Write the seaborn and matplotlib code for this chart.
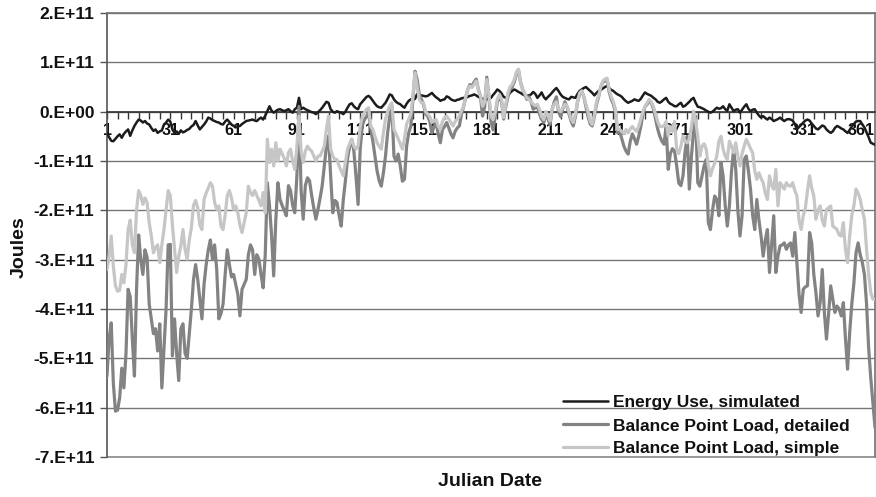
import matplotlib
matplotlib.use("Agg")
import matplotlib.pyplot as plt
import matplotlib.transforms as mtransforms
import numpy as np
import pandas as pd
import seaborn as sns

# ---------------- data (values in units of 1e11 Joules) ----------------
days = list(range(1, 366))

energy_use = [
    -0.43, -0.52, -0.59, -0.60, -0.55, -0.50, -0.46, -0.53, -0.45, -0.40,
    -0.36, -0.49, -0.38, -0.29, -0.22, -0.16, -0.18, -0.22, -0.19, -0.24,
    -0.26, -0.33, -0.39, -0.36, -0.43, -0.40, -0.38, -0.26, -0.22, -0.16,
    -0.20, -0.36, -0.43, -0.40, -0.45, -0.38, -0.42, -0.40, -0.37, -0.35,
    -0.30, -0.27, -0.19, -0.28, -0.36, -0.31, -0.26, -0.20, -0.12, -0.14,
    -0.17, -0.19, -0.21, -0.22, -0.25, -0.26, -0.20, -0.16, -0.21, -0.26,
    -0.29, -0.32, -0.30, -0.29, -0.25, -0.22, -0.19, -0.18, -0.17, -0.16,
    -0.18, -0.19, -0.15, -0.12, -0.16, -0.08, 0.01, 0.11, 0.02, -0.02,
    0.01, 0.04, 0.05, 0.03, 0.01, 0.03, 0.05, 0.01, -0.02, 0.05,
    0.08, 0.28, 0.05, 0.08, 0.05, 0.03, 0.01, -0.01, -0.02, -0.05,
    -0.01, 0.03, 0.08, 0.14, 0.20, 0.18, 0.05, 0.00, -0.02, 0.01,
    -0.01, -0.02, -0.05, 0.00, 0.08, 0.15, 0.17, 0.11, 0.07, 0.05,
    0.15, 0.20, 0.25, 0.30, 0.32, 0.28, 0.22, 0.16, 0.11, 0.09,
    0.08, 0.13, 0.18, 0.26, 0.35, 0.33, 0.25, 0.20, 0.17, 0.15,
    0.11, 0.08, 0.16, 0.22, 0.25, 0.24, 0.26, 0.36, 0.34, 0.33,
    0.32, 0.31, 0.32, 0.35, 0.38, 0.33, 0.29, 0.26, 0.22, 0.24,
    0.25, 0.31, 0.29, 0.25, 0.23, 0.22, 0.24, 0.25, 0.27, 0.28,
    0.28, 0.30, 0.32, 0.33, 0.35, 0.33, 0.30, 0.28, 0.26, 0.25,
    0.25, 0.26, 0.28, 0.34, 0.39, 0.45, 0.42, 0.37, 0.30, 0.28,
    0.32, 0.38, 0.42, 0.45, 0.43, 0.40, 0.38, 0.35, 0.33, 0.32,
    0.33, 0.35, 0.40, 0.36, 0.28, 0.33, 0.39, 0.30, 0.25, 0.30,
    0.34, 0.39, 0.44, 0.48, 0.42, 0.35, 0.30, 0.28, 0.26, 0.25,
    0.30, 0.29, 0.28, 0.36, 0.42, 0.45, 0.48, 0.50, 0.46, 0.42,
    0.38, 0.33, 0.38, 0.42, 0.44, 0.47, 0.50, 0.52, 0.48, 0.44,
    0.42, 0.38, 0.35, 0.33, 0.30, 0.25, 0.21, 0.18, 0.20, 0.22,
    0.25, 0.23, 0.22, 0.26, 0.33, 0.39, 0.36, 0.34, 0.32, 0.28,
    0.25, 0.20, 0.18, 0.21, 0.25, 0.28, 0.20, 0.16, 0.14, 0.11,
    0.11, 0.15, 0.18, 0.10, 0.12, 0.16, 0.20, 0.25, 0.28, 0.18,
    0.10, 0.09, 0.07, 0.05, 0.02, 0.00, -0.02, 0.00, 0.04, 0.08,
    0.06, 0.07, 0.11, 0.05, 0.02, 0.15, 0.08, 0.01, 0.04, 0.05,
    -0.02, 0.04, 0.10, 0.15, 0.06, 0.01, 0.04, 0.05, -0.02, -0.08,
    -0.12, -0.09, -0.13, -0.16, -0.12, -0.15, -0.19, -0.17, -0.15, -0.12,
    -0.16, -0.19, -0.16, -0.15, -0.16, -0.18, -0.25, -0.36, -0.31, -0.27,
    -0.22, -0.18, -0.16, -0.18, -0.24, -0.29, -0.34, -0.36, -0.32, -0.28,
    -0.30, -0.36, -0.40, -0.43, -0.40, -0.33, -0.29, -0.31, -0.34, -0.36,
    -0.40, -0.43, -0.37, -0.30, -0.25, -0.20, -0.19, -0.19, -0.26, -0.32,
    -0.42, -0.52, -0.63, -0.65, -0.67,
]

bp_detailed = [
    -5.36, -4.60, -4.28, -5.50, -6.07, -6.05, -5.80, -5.20, -5.60, -4.90,
    -3.60, -3.75, -4.60, -5.36, -3.60, -2.50, -3.00, -3.30, -2.80, -2.95,
    -3.90, -4.20, -4.50, -4.40, -4.85, -4.30, -5.60, -4.80, -4.00, -2.70,
    -2.69, -4.95, -4.20, -4.90, -5.45, -4.40, -4.30, -4.90, -5.00, -4.50,
    -4.00, -3.40, -3.10, -3.40, -3.80, -4.20, -3.50, -3.10, -2.80, -2.60,
    -3.00, -2.70, -3.20, -4.20, -4.10, -3.90, -3.30, -2.80, -3.10, -3.35,
    -3.30, -3.50, -3.70, -4.14, -3.60, -3.50, -3.40, -2.90, -2.70, -2.80,
    -3.30, -2.90, -2.99, -3.30, -3.57, -2.90, -1.44, -1.90, -2.50, -3.33,
    -2.20, -1.44, -1.78, -1.90, -2.00, -2.11, -1.50, -1.60, -1.90, -2.05,
    -1.30, 0.10, -1.60, -2.18, -1.50, -1.34, -1.40, -1.70, -1.95, -2.18,
    -1.98, -1.75, -1.50, -1.10, -0.70, -0.49, -1.30, -2.05, -1.80, -1.84,
    -2.10, -2.32, -1.78, -1.40, -0.95, -0.70, -0.56, -0.80, -1.30, -1.88,
    -0.76, -0.29, -0.16, -0.10, -0.02, -0.36, -0.60, -0.90, -1.20, -1.40,
    -1.51, -1.24, -0.90, -0.43, -0.10, 0.11, -0.90, -1.00, -0.86, -1.10,
    -1.41, -1.37, -0.70, -0.43, -0.29, 0.25, 0.82, 0.65, 0.35, 0.25,
    0.15, -0.05, -0.09, -0.20, -0.43, -0.30, -0.22, -0.45, -0.63, -0.36,
    -0.30, -0.22, -0.33, -0.45, -0.53, -0.40, -0.33, -0.29, -0.05, 0.10,
    0.28, 0.45, 0.55, 0.52, 0.60, 0.66, 0.45, 0.32, -0.09, 0.10,
    0.70, 0.30, -0.20, -0.37, -0.10, 0.20, 0.30, 0.20, -0.15, 0.10,
    0.30, 0.45, 0.50, 0.60, 0.75, 0.85, 0.60, 0.45, 0.35, 0.25,
    0.30, 0.20, 0.05, 0.08, 0.10, -0.05, -0.15, -0.22, -0.05, -0.15,
    -0.26, 0.05, 0.20, 0.30, 0.00, -0.10, 0.05, 0.20, 0.10, -0.05,
    -0.20, -0.29, -0.10, 0.20, 0.35, 0.42, 0.30, 0.10, -0.10, -0.25,
    -0.29, -0.10, 0.15, 0.30, 0.50, 0.60, 0.62, 0.66, 0.40, 0.25,
    0.15, 0.00, -0.43, -0.40, -0.55, -0.70, -0.80, -0.86, -0.60, -0.45,
    -0.55, -0.66, -0.50, -0.30, -0.05, 0.10, 0.15, 0.22, 0.18, 0.05,
    -0.15, -0.35, -0.50, -0.60, -0.66, -0.30, -1.17, -0.85, -0.75, -0.80,
    -1.10, -1.45, -1.50, -1.30, -0.80, -0.50, -1.57, -0.90, -0.40, -0.09,
    -1.44, -1.51, -1.30, -1.10, -0.97, -2.25, -2.39, -2.00, -1.71, -1.78,
    -2.11, -1.03, -1.30, -1.90, -2.32, -1.90, -1.20, -0.76, -1.17, -2.00,
    -2.52, -2.11, -0.97, -0.90, -1.20, -1.57, -2.10, -2.39, -1.78, -2.20,
    -2.52, -2.93, -2.60, -2.39, -3.26, -2.70, -2.11, -3.26, -2.93, -2.72,
    -2.70, -2.66, -2.79, -2.70, -2.66, -2.93, -2.45, -3.06, -3.70, -4.07,
    -3.60, -3.55, -3.53, -2.45, -2.66, -3.30, -3.67, -4.14, -3.87, -3.20,
    -4.07, -4.61, -4.10, -3.53, -3.80, -4.07, -3.94, -4.00, -4.14, -3.87,
    -4.60, -5.22, -4.48, -3.90, -3.47, -2.86, -2.66, -2.90, -3.06, -3.30,
    -3.90, -4.80, -5.40, -5.90, -6.40,
]

bp_simple = [
    -3.20, -2.93, -2.52, -3.13, -3.53, -3.64, -3.62, -3.30, -3.47, -3.10,
    -2.40, -2.20, -2.70, -2.86, -2.00, -1.60, -1.70, -1.88, -1.75, -1.84,
    -2.25, -2.52, -2.86, -2.75, -2.70, -3.06, -2.70, -2.39, -2.00, -1.60,
    -1.70, -2.30, -2.79, -3.26, -2.93, -2.72, -2.39, -2.79, -2.99, -2.60,
    -2.35, -1.90, -1.80, -1.95, -2.30, -2.39, -1.78, -1.65, -1.55, -1.44,
    -1.51, -1.84, -1.98, -1.91, -2.32, -2.39, -2.10, -1.70, -1.60, -1.75,
    -1.98, -1.91, -2.05, -2.30, -2.45, -2.25, -2.05, -1.51, -1.64, -1.70,
    -1.60, -1.70, -1.80, -1.91, -1.64, -2.05, -0.56, -1.03, -0.76, -1.10,
    -0.63, -1.00, -0.76, -0.85, -0.95, -1.10, -0.83, -0.76, -1.00, -1.17,
    -0.70, -0.09, -0.80, -1.03, -0.80, -0.70, -0.76, -0.80, -0.90, -1.00,
    -0.90, -0.90, -0.80, -0.70, -0.35, -0.09, -0.76, -0.90, -0.97, -0.97,
    -1.10, -1.20, -1.30, -1.03, -0.76, -0.65, -0.56, -0.70, -0.76, -0.70,
    -0.30, -0.10, -0.02, 0.05, 0.08, -0.29, -0.36, -0.50, -0.63, -0.70,
    -0.76, -0.43, -0.15, 0.00, 0.11, 0.18, -0.36, -0.45, -0.55, -0.65,
    -0.76, -0.55, -0.25, -0.15, -0.05, 0.32, 0.79, 0.50, 0.25, 0.18,
    0.18, 0.00, -0.05, -0.10, -0.22, -0.18, -0.16, -0.30, -0.36, -0.20,
    -0.12, -0.09, -0.15, -0.22, -0.29, -0.20, -0.15, -0.09, 0.02, 0.10,
    0.30, 0.45, 0.52, 0.49, 0.55, 0.62, 0.45, 0.32, 0.11, 0.20,
    0.65, 0.35, -0.10, -0.16, 0.00, 0.25, 0.35, 0.25, -0.12, 0.15,
    0.38, 0.50, 0.55, 0.65, 0.80, 0.86, 0.60, 0.45, 0.38, 0.28,
    0.25, 0.20, 0.15, 0.12, 0.15, 0.05, -0.10, -0.16, 0.00, -0.08,
    -0.19, 0.05, 0.15, 0.20, 0.05, 0.00, 0.08, 0.15, 0.12, 0.00,
    -0.15, -0.22, -0.05, 0.20, 0.38, 0.42, 0.30, 0.15, 0.00, -0.20,
    -0.26, -0.05, 0.20, 0.32, 0.50, 0.62, 0.66, 0.68, 0.45, 0.30,
    0.20, 0.05, -0.36, -0.36, -0.40, -0.45, -0.36, -0.43, -0.35, -0.30,
    -0.36, -0.40, -0.30, -0.15, 0.00, 0.10, 0.18, 0.25, 0.20, 0.10,
    -0.05, -0.20, -0.30, -0.30, -0.29, -0.20, -0.49, -0.30, -0.40, -0.20,
    -0.76, -0.85, -0.70, -0.49, -0.60, -0.63, -0.56, -0.30, 0.01, -0.20,
    -0.50, -0.90, -0.70, -0.65, -0.76, -1.10, -1.30, -1.15, -1.05, -0.90,
    -0.60, -0.50, -0.76, -0.90, -0.97, -0.60, -0.70, -0.83, -0.63, -0.90,
    -1.10, -0.85, -0.70, -0.56, -0.65, -0.75, -0.83, -1.20, -1.37, -1.24,
    -1.35, -1.44, -1.65, -1.78, -1.30, -1.50, -1.57, -1.17, -1.91, -1.44,
    -1.50, -1.57, -1.44, -1.50, -1.51, -1.44, -1.60, -1.71, -2.20, -2.39,
    -2.11, -1.95, -1.60, -1.30, -1.55, -1.71, -2.18, -2.00, -1.91, -2.20,
    -2.32, -1.98, -1.95, -1.91, -2.32, -2.35, -2.39, -2.50, -2.52, -2.25,
    -2.80, -3.06, -2.52, -2.10, -1.91, -1.57, -1.65, -1.78, -2.00, -2.18,
    -2.79, -3.30, -3.67, -3.80, -3.80,
]

series_names = ["Energy Use, simulated",
                "Balance Point Load, detailed",
                "Balance Point Load, simple"]
x_tick_values = [1, 31, 61, 91, 121, 151, 181, 211, 241, 271, 301, 331, 361]
y_tick_values = [2, 1, 0, -1, -2, -3, -4, -5, -6, -7]
y_tick_labels = ["2.E+11", "1.E+11", "0.E+00", "-1.E+11", "-2.E+11",
                 "-3.E+11", "-4.E+11", "-5.E+11", "-6.E+11", "-7.E+11"]
UNIT = 1e11

# ---------------- table ----------------
frames = []
for name, vals in zip(series_names, [energy_use, bp_detailed, bp_simple]):
    frames.append(pd.DataFrame({"day": days,
                                "joules": np.array(vals) * UNIT,
                                "series": name}))
df = pd.concat(frames, ignore_index=True)

# ---------------- style ----------------
sns.set_theme(style="white")
plt.rcParams["font.family"] = ["Liberation Sans", "DejaVu Sans"]
plt.rcParams["font.weight"] = "bold"

W, H = 876, 497
fig = plt.figure(figsize=(W / 100, H / 100), dpi=100)
L, R, T, B = 107, 875, 13, 457
ax = fig.add_axes([L / W, 1 - B / H, (R - L) / W, (B - T) / H])

colors = {series_names[0]: "#1c1c1c",
          series_names[1]: "#838383",
          series_names[2]: "#c6c6c6"}
widths = {series_names[0]: 1.8,
          series_names[1]: 2.3,
          series_names[2]: 2.3}
zorders = {series_names[0]: 3, series_names[1]: 4, series_names[2]: 5}

for name in series_names:
    sub = df[df["series"] == name]
    sns.lineplot(data=sub, x="day", y="joules", color=colors[name],
                 linewidth=widths[name], ax=ax, label=name,
                 zorder=zorders[name], estimator=None, sort=False)

ax.set_xlim(1, 365)
ax.set_ylim(-7 * UNIT, 2 * UNIT)

# horizontal gridlines
ax.set_yticks([v * UNIT for v in y_tick_values])
ax.set_yticklabels(y_tick_labels, fontsize=12.5, fontweight="bold", color="#111111")
ax.yaxis.grid(True, color="#767676", linewidth=1.0)
ax.xaxis.grid(False)
ax.tick_params(axis="y", which="major", direction="out", length=5, width=1,
               color="#555555", pad=4, left=True)

# x axis drawn on the zero line
ax.spines["bottom"].set_position(("data", 0))
ax.spines["bottom"].set_color("#333333")
ax.spines["bottom"].set_linewidth(1.2)
ax.set_xticks(x_tick_values)
ax.set_xticklabels([str(v) for v in x_tick_values], fontsize=11.5,
                   fontweight="bold", color="#111111")
ax.set_xticks(list(range(1, 366, 5)), minor=True)
ax.tick_params(axis="x", which="major", direction="out", length=5, width=1,
               color="#333333", pad=3, bottom=True)
ax.tick_params(axis="x", which="minor", direction="out", length=5, width=1,
               color="#333333", bottom=True)

# keep the last day label inside the figure, as in the reference
last_lbl = ax.get_xticklabels()[-1]
last_lbl.set_transform(last_lbl.get_transform() +
                       mtransforms.ScaledTranslation(-0.05, 0, fig.dpi_scale_trans))

ax.spines["left"].set_color("#555555")
ax.spines["left"].set_linewidth(1.2)
ax.spines["top"].set_color("#767676")
ax.spines["right"].set_color("#767676")
ax.axhline(-7 * UNIT, color="#8a8a8a", linewidth=1.2, clip_on=False, zorder=1)

ax.set_xlabel("")
ax.set_ylabel("")
fig.text(490 / W, 1 - 482 / H, "Julian Date", ha="center", va="center",
         fontsize=14, fontweight="bold", color="#111111")
fig.text(19 / W, 1 - 247 / H, "Joules", ha="center", va="center",
         rotation=90, fontsize=14, fontweight="bold", color="#111111")

# legend
handles, labels = ax.get_legend_handles_labels()
leg = ax.legend(handles, labels, loc="lower left",
                bbox_to_anchor=((562 - L) / (R - L), 0.0),
                frameon=False, fontsize=12.5, handlelength=2.6,
                handletextpad=0.3, labelspacing=0.45, borderpad=0.05,
                borderaxespad=0.0)
for t in leg.get_texts():
    t.set_fontweight("bold")
    t.set_color("#111111")

fig.savefig("out.png", dpi=100, facecolor="white")
